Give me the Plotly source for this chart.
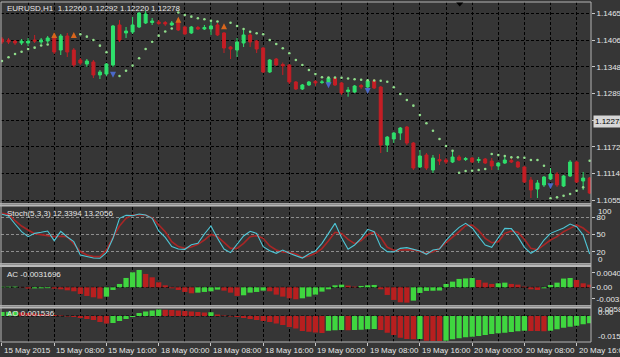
import plotly.graph_objects as go
from plotly.subplots import make_subplots

# ---------------- data ----------------
tick_idx = [0, 8, 16, 24, 32, 40, 48, 56, 64, 72, 80, 88]
tick_labels = ["15 May 2015", "15 May 08:00", "15 May 16:00", "18 May 00:00",
               "18 May 08:00", "18 May 16:00", "19 May 00:00", "19 May 08:00",
               "19 May 16:00", "20 May 00:00", "20 May 08:00", "20 May 16:00"]

opens = [
    1.14087, 1.14065, 1.14043, 1.13999, 1.13999, 1.14065, 1.14021, 1.14043, 1.14109, 1.13846,
    1.14153, 1.13846, 1.13627, 1.13539, 1.13583, 1.13299, 1.13320, 1.13518, 1.14394, 1.14219,
    1.14240, 1.14350, 1.14437, 1.14448, 1.14459, 1.14448, 1.14394, 1.14459, 1.14350, 1.14219,
    1.14339, 1.14306, 1.14306, 1.14394, 1.14219, 1.13912, 1.13846, 1.13999, 1.14175, 1.14043,
    1.13890, 1.13364, 1.13649, 1.13529, 1.13518, 1.13146, 1.12992, 1.13080, 1.13157, 1.13135,
    1.13124, 1.13233, 1.13124, 1.12937, 1.12926, 1.13069, 1.13036, 1.13168, 1.13036, 1.11765,
    1.11897, 1.12028, 1.12160, 1.11809, 1.11284, 1.11547, 1.11218, 1.11448, 1.11437, 1.11393,
    1.11503, 1.11448, 1.11481, 1.11426, 1.11459, 1.11415, 1.11306, 1.11371, 1.11426, 1.11393,
    1.11284, 1.10999, 1.10802, 1.10890, 1.11021, 1.11131, 1.10868, 1.11087, 1.11393, 1.10977,
    1.11043]
highs = [
    1.14131, 1.14109, 1.14065, 1.14087, 1.14109, 1.14175, 1.14109, 1.14153, 1.14175, 1.14197,
    1.14219, 1.13890, 1.13671, 1.13649, 1.13627, 1.13408, 1.13561, 1.14394, 1.14503, 1.14350,
    1.14569, 1.14678, 1.14700, 1.14547, 1.14503, 1.14481, 1.14481, 1.14547, 1.14372, 1.14372,
    1.14372, 1.14394, 1.14503, 1.14437, 1.14240, 1.13934, 1.14109, 1.14284, 1.14240, 1.14065,
    1.13912, 1.13649, 1.13671, 1.13572, 1.13539, 1.13168, 1.13102, 1.13168, 1.13189, 1.13189,
    1.13255, 1.13255, 1.13146, 1.13036, 1.13080, 1.13102, 1.13211, 1.13211, 1.13058, 1.11962,
    1.12050, 1.12160, 1.12182, 1.11831, 1.11656, 1.11590, 1.11547, 1.11568, 1.11481, 1.11656,
    1.11547, 1.11503, 1.11503, 1.11503, 1.11481, 1.11481, 1.11393, 1.11503, 1.11481, 1.11415,
    1.11306, 1.11065, 1.10999, 1.11087, 1.11262, 1.11174, 1.11109, 1.11437, 1.11415, 1.11174,
    1.11065]
lows = [
    1.13977, 1.13977, 1.13955, 1.13955, 1.13934, 1.13999, 1.13977, 1.13999, 1.13758, 1.13736,
    1.13693, 1.13474, 1.13518, 1.13474, 1.13233, 1.13211, 1.13277, 1.13474, 1.14021, 1.14109,
    1.14197, 1.14328, 1.14415, 1.14394, 1.14394, 1.14372, 1.14372, 1.14262, 1.14175, 1.14197,
    1.14284, 1.14284, 1.14175, 1.14153, 1.13780, 1.13649, 1.13693, 1.13912, 1.13912, 1.13780,
    1.13342, 1.13342, 1.13496, 1.13299, 1.13102, 1.12970, 1.12970, 1.13058, 1.13058, 1.13102,
    1.13080, 1.13058, 1.12861, 1.12823, 1.12905, 1.12992, 1.13014, 1.12992, 1.11590, 1.11612,
    1.11809, 1.11875, 1.11765, 1.11218, 1.11262, 1.11218, 1.11152, 1.11328, 1.11350, 1.11371,
    1.11415, 1.11415, 1.11371, 1.11371, 1.11350, 1.11218, 1.11218, 1.11350, 1.11371, 1.11262,
    1.10933, 1.10605, 1.10605, 1.10846, 1.10999, 1.10846, 1.10846, 1.11065, 1.10933, 1.10780,
    1.10692]
closes = [
    1.14021, 1.14021, 1.13999, 1.14043, 1.14043, 1.14043, 1.14065, 1.14109, 1.13802, 1.14153,
    1.13802, 1.13518, 1.13561, 1.13605, 1.13299, 1.13364, 1.13539, 1.14372, 1.14065, 1.14262,
    1.14394, 1.14656, 1.14634, 1.14481, 1.14426, 1.14415, 1.14437, 1.14284, 1.14197, 1.14350,
    1.14306, 1.14339, 1.14372, 1.14175, 1.13890, 1.13868, 1.14021, 1.14175, 1.14021, 1.13868,
    1.13364, 1.13627, 1.13518, 1.13496, 1.13146, 1.12992, 1.13080, 1.13146, 1.13124, 1.13146,
    1.13233, 1.13080, 1.12905, 1.12970, 1.13058, 1.13036, 1.13168, 1.13014, 1.11765, 1.11940,
    1.12028, 1.12138, 1.11809, 1.11262, 1.11525, 1.11262, 1.11481, 1.11415, 1.11393, 1.11503,
    1.11437, 1.11470, 1.11393, 1.11448, 1.11371, 1.11306, 1.11371, 1.11437, 1.11393, 1.11284,
    1.10955, 1.10780, 1.10933, 1.11065, 1.11131, 1.10890, 1.11087, 1.11393, 1.10955, 1.11043,
    1.10714]

sar = [
    1.13605, 1.13686, 1.13759, 1.13809, 1.13868, 1.13897, 1.13945, 1.13967, None, None,
    None, None, 1.14190, 1.14138, 1.14065, 1.13941, 1.13796, None, 1.13277, 1.13393,
    1.13503, 1.13665, 1.13868, 1.14028, 1.14160, 1.14251, 1.14317, 1.14668, 1.14613, 1.14576,
    1.14541, 1.14519, 1.14488, 1.14470, None, 1.14444, 1.14372, 1.14306, 1.14247, 1.14212,
    1.14190, 1.14065, 1.13978, 1.13884, 1.13774, 1.13627, 1.13518, 1.13408, 1.13321, 1.13248,
    1.13244, 1.13242, 1.13240, 1.13222, 1.13205, 1.13194, 1.13185, 1.13178, 1.13172, 1.13152,
    1.13029, 1.12883, 1.12751, 1.12627, 1.12423, 1.12241, 1.12079, 1.11897, 1.11744, 1.11641,
    1.11159, 1.11196, 1.11203, 1.11218, 1.11240, 1.11569, 1.11547, 1.11525, 1.11496, 1.11496,
    1.11488, 1.11437, 1.11437, 1.11313, 1.10599, 1.10620, 1.10656, 1.10693, 1.10765, 1.10839,
    1.11422]

frac_up_idx = [8, 11, 27, 34]
frac_up_price = [1.14240, 1.14240, 1.14575, 1.14431]
frac_dn_idx = [17, 50, 56, 84]
frac_dn_price = [1.13240, 1.13007, 1.12883, 1.10795]

price_levels = [1.10555, 1.11140, 1.11725, 1.12310, 1.12895, 1.13480, 1.14065, 1.14650]
price_labels = ["1.10555", "1.11140", "1.11725", "", "1.12895", "1.13480", "1.14065", "1.14650"]
current_price = 1.12278

stoch_k = [
    85.3, 82.4, 68.4, 55.0, 46.3, 52.1, 53.9, 56.2, 39.3, 55.6,
    45.7, 37.6, 14.3, 11.4, 9.1, 8.5, 18.4, 43.4, 78.3, 83.5,
    83.0, 85.9, 84.1, 78.3, 56.2, 45.1, 28.9, 24.8, 24.2, 32.3,
    34.7, 51.0, 64.9, 43.4, 24.8, 18.4, 33.5, 47.5, 55.6, 52.1,
    28.9, 21.9, 17.2, 23.0, 17.2, 13.1, 9.0, 16.0, 21.3, 34.7,
    52.7, 69.6, 44.5, 24.2, 31.8, 43.4, 59.1, 55.0, 28.9, 20.1,
    19.5, 25.9, 27.1, 24.2, 21.3, 15.5, 23.0, 24.8, 39.9, 52.1,
    62.6, 69.6, 61.4, 46.3, 31.8, 27.7, 45.1, 60.8, 60.3, 46.3,
    27.7, 17.2, 24.2, 40.5, 52.1, 56.8, 61.4, 68.4, 63.8, 49.2,
    16.0]
stoch_d = [
    87.0, 85.3, 74.2, 64.9, 57.9, 51.5, 49.8, 48.1, 46.3, 46.9,
    46.3, 34.0, 20.1, 14.3, 11.4, 11.4, 23.0, 45.1, 64.9, 78.3,
    84.1, 84.1, 84.1, 78.9, 66.7, 55.0, 37.6, 28.9, 25.9, 28.3,
    32.9, 40.5, 50.4, 46.3, 36.4, 25.9, 25.9, 34.7, 46.3, 48.1,
    43.4, 30.0, 23.0, 19.5, 18.4, 16.1, 10.0, 12.6, 17.2, 25.4,
    39.3, 53.9, 52.1, 41.7, 34.1, 39.3, 49.8, 54.5, 44.6, 27.7,
    22.5, 23.0, 24.2, 23.6, 20.1, 17.2, 20.1, 25.9, 35.8, 44.6,
    55.0, 65.5, 66.7, 56.8, 43.4, 35.8, 37.6, 52.1, 56.2, 53.9,
    41.7, 25.9, 23.6, 31.8, 40.5, 46.3, 55.0, 60.8, 66.7, 61.4,
    52.1]
stoch_levels = [20, 50, 80]

ac = [
    0.00015, 0.00017, 0.00019, -0.00005, -0.00035, -0.00030, -0.00027, -0.00023, -0.00037, -0.00055,
    -0.00083, -0.00110, -0.00183, -0.00238, -0.00275, -0.00312, -0.00257, -0.00073, 0.00092, 0.00257,
    0.00413, 0.00477, 0.00367, 0.00275, 0.00138, 0.00055, -0.00028, -0.00073, -0.00128, -0.00165,
    -0.00147, -0.00128, -0.00110, -0.00064, -0.00092, -0.00147, -0.00238, -0.00220, -0.00147, -0.00128,
    -0.00092, -0.00110, -0.00202, -0.00257, -0.00303, -0.00330, -0.00303, -0.00257, -0.00202, -0.00119,
    -0.00055, 0.00055, 0.00073, 0.00046, 0.00018, 0.00037, 0.00055, 0.00064, -0.00055, -0.00211,
    -0.00348, -0.00413, -0.00422, -0.00367, -0.00156, -0.00100, -0.00095, -0.00090, 0.00092, 0.00156,
    0.00230, 0.00245, 0.00255, 0.00202, 0.00128, 0.00092, 0.00110, 0.00128, 0.00092, 0.00073,
    0.00018, -0.00055, -0.00073, -0.00028, 0.00064, 0.00128, 0.00240, 0.00255, 0.00202, 0.00110,
    0.00073]
ac_ticks = [0.00401, 0.0, -0.0031696]
ac_tick_text = ["0.00401", "0.00", "-0.0031696"]

ao = [
    0.00297, 0.00319, 0.00334, 0.00260, 0.00223, 0.00186, 0.00148, 0.00111, 0.00074, 0.00037,
    -0.00037, -0.00074, -0.00148, -0.00223, -0.00297, -0.00445, -0.00557, -0.00519, -0.00371, -0.00223,
    -0.00074, 0.00223, 0.00334, 0.00408, 0.00482, 0.00467, 0.00445, 0.00408, 0.00371, 0.00334,
    0.00297, 0.00260, 0.00282, 0.00111, 0.00037, -0.00037, -0.00074, -0.00148, -0.00223, -0.00297,
    -0.00371, -0.00445, -0.00557, -0.00668, -0.00816, -0.00928, -0.01113, -0.01165, -0.01224, -0.01261,
    -0.01091, -0.01061, -0.01039, -0.01054, -0.01039, -0.01017, -0.00987, -0.00965, -0.01039, -0.01239,
    -0.01410, -0.01610, -0.01707, -0.01729, -0.01707, -0.01833, -0.01848, -0.01862, -0.01833, -0.01729,
    -0.01655, -0.01580, -0.01536, -0.01484, -0.01410, -0.01336, -0.01284, -0.01239, -0.01187, -0.01135,
    -0.01091, -0.01106, -0.01120, -0.01135, -0.01098, -0.00987, -0.00868, -0.00794, -0.00720, -0.00616,
    -0.00542]

title_text = "EURUSD,H1  1.12260 1.12292 1.12220 1.12278"
stoch_title = "Stoch(5,3,3) 12.3394 13.2056"
ac_title = "AC -0.0031696"
ao_title = "AO 0.001536"

# ---------------- styling ----------------
BG = "#363636"
GREEN = "#2fe06c"
RED = "#c41e25"
BAR_G = "#3fd63f"
BAR_R = "#b81f1f"
TXT = "#e6e6e6"
FONT = "Liberation Sans"
GRID = "#000000"
DASH = "3px,2px"

idx = list(range(len(opens)))


def updown_colors(vals):
    out = []
    for i, v in enumerate(vals):
        up = (i == 0) or (v > vals[i - 1])
        out.append(BAR_G if up else BAR_R)
    return out


fig = make_subplots(rows=4, cols=1, shared_xaxes=True, vertical_spacing=0)

fig.add_trace(go.Candlestick(
    x=idx, open=opens, high=highs, low=lows, close=closes,
    increasing=dict(line=dict(color=GREEN, width=1), fillcolor=GREEN),
    decreasing=dict(line=dict(color=RED, width=1), fillcolor=RED),
    whiskerwidth=0, showlegend=False, hoverinfo="skip"), row=1, col=1)

fig.add_trace(go.Scatter(
    x=idx, y=sar, mode="markers",
    marker=dict(size=2.6, color="#8fdc8a"), showlegend=False, hoverinfo="skip"),
    row=1, col=1)

fig.add_trace(go.Scatter(
    x=frac_up_idx, y=frac_up_price, mode="markers",
    marker=dict(symbol="arrow-up", size=6, color="#d9661c"),
    showlegend=False, hoverinfo="skip"), row=1, col=1)
fig.add_trace(go.Scatter(
    x=frac_dn_idx, y=frac_dn_price, mode="markers",
    marker=dict(symbol="arrow-down", size=6, color="#4a68c8"),
    showlegend=False, hoverinfo="skip"), row=1, col=1)

fig.add_trace(go.Scatter(
    x=idx, y=stoch_d, mode="lines", line=dict(color="#a82626", width=1.6),
    showlegend=False, hoverinfo="skip"), row=2, col=1)
fig.add_trace(go.Scatter(
    x=idx, y=stoch_k, mode="lines", line=dict(color="#4ec6d6", width=1.1),
    showlegend=False, hoverinfo="skip"), row=2, col=1)

fig.add_trace(go.Bar(
    x=idx, y=ac, marker=dict(color=updown_colors(ac), line=dict(width=0)),
    width=0.8, showlegend=False, hoverinfo="skip"), row=3, col=1)

fig.add_trace(go.Bar(
    x=idx, y=ao, marker=dict(color=updown_colors(ao), line=dict(width=0)),
    width=0.8, showlegend=False, hoverinfo="skip"), row=4, col=1)

# ---------------- layout ----------------
H_TOP, H_BOT = 2, 342          # plot area in pixels (top, bottom)
PH = H_BOT - H_TOP


def py(p):
    return (H_BOT - p) / PH


minor_vals = [t + 4 for t in tick_idx]
xcommon = dict(range=[-0.15, 90.2], tickmode="array", tickvals=tick_idx,
               showticklabels=False, showgrid=True, gridcolor=GRID, griddash=DASH,
               gridwidth=1, zeroline=False, showline=False, fixedrange=True,
               automargin=False,
               minor=dict(tickvals=minor_vals, showgrid=True, gridcolor=GRID,
                          griddash=DASH, gridwidth=1),
               rangeslider=dict(visible=False))
for r in range(1, 5):
    fig.update_xaxes(**xcommon, row=r, col=1)
fig.update_xaxes(ticks="outside", ticklen=3, tickcolor="#c8c8c8", row=4, col=1)

yfont = dict(family=FONT, size=8, color=TXT)
ycommon = dict(side="right", automargin=False, fixedrange=True, zeroline=False,
               ticks="outside", ticklen=3, tickcolor="#c8c8c8", tickfont=yfont)
fig.update_yaxes(domain=[py(203), py(2)], range=[1.10496, 1.14897],
                 tickmode="array", tickvals=price_levels, ticktext=price_labels,
                 showgrid=True, gridcolor=GRID, griddash=DASH, **ycommon, row=1, col=1)
fig.update_yaxes(domain=[py(263), py(206.5)], range=[0.3, 99],
                 tickmode="array", tickvals=stoch_levels,
                 ticktext=[str(v) for v in stoch_levels],
                 showgrid=True, gridcolor="#8e8e8e", griddash=DASH, **ycommon, row=2, col=1)
fig.update_yaxes(domain=[py(305), py(267)], range=[-0.00487, 0.00558],
                 tickmode="array", tickvals=ac_ticks, ticktext=ac_tick_text,
                 showgrid=False, **ycommon, row=3, col=1)
fig.update_yaxes(domain=[py(342), py(308.5)], range=[-0.01929, 0.00557], side="right",
                 showticklabels=False, showgrid=False, zeroline=False, automargin=False,
                 fixedrange=True, row=4, col=1)

shapes = []
# zero lines of the histograms
for yr in ("y3", "y4"):
    shapes.append(dict(type="line", xref="paper", yref=yr, x0=0, x1=1, y0=0, y1=0,
                       line=dict(color=GRID, width=1, dash=DASH), layer="below"))
# pane separators
for a, b in [(203, 206.5), (263, 267), (305, 308.5)]:
    shapes.append(dict(type="rect", xref="paper", yref="paper", x0=-0.01, x1=1.0,
                       y0=py(b), y1=py(a), fillcolor="#b9b9b9", line=dict(width=0)))
    shapes.append(dict(type="line", xref="paper", yref="paper", x0=-0.01, x1=1.0,
                       y0=py(a + 1.2), y1=py(a + 1.2), line=dict(color="#7a7a7a", width=1)))
# window border
shapes.append(dict(type="rect", xref="paper", yref="paper", x0=0, x1=1, y0=0, y1=1,
                   line=dict(color="#b4b4b4", width=1)))
# chart shift marker
shapes.append(dict(type="path", xref="x", yref="paper",
                   path=f"M 69.55,{py(2.5)} L 70.65,{py(2.5)} L 70.1,{py(6.5)} Z",
                   fillcolor="#000000", line=dict(width=0)))

ann = []
afont = dict(family=FONT, size=8, color=TXT)
ann.append(dict(text=title_text, xref="paper", yref="paper", x=0.0068, y=py(8.5),
                xanchor="left", yanchor="middle", showarrow=False, font=afont))
ann.append(dict(text=stoch_title, xref="paper", yref="paper", x=0.0068, y=py(213.5),
                xanchor="left", yanchor="middle", showarrow=False, font=afont))
ann.append(dict(text=ac_title, xref="paper", yref="paper", x=0.0068, y=py(274),
                xanchor="left", yanchor="middle", showarrow=False, font=afont))
ann.append(dict(text=ao_title, xref="paper", yref="paper", x=0.0068, y=py(313.5),
                xanchor="left", yanchor="middle", showarrow=False, font=afont))
# current price box
ann.append(dict(text=f"{current_price:.5f}", xref="paper", yref="y", x=1, y=current_price,
                xanchor="left", yanchor="middle", xshift=2, showarrow=False,
                bgcolor="#d6d6d6", borderpad=1,
                font=dict(family=FONT, size=8, color="#000000")))
# stoch 100 / 0 labels (placed inside the pane as the terminal does)
ann.append(dict(text="100", xref="paper", yref="paper", x=1, y=py(211), xanchor="left",
                yanchor="middle", xshift=5, showarrow=False, font=afont))
ann.append(dict(text="0", xref="paper", yref="paper", x=1, y=py(259), xanchor="left",
                yanchor="middle", xshift=5, showarrow=False, font=afont))
# AO scale labels
for txt, pix in [("0.00582", 309.5), ("0.00", 312.5), ("-0.01536", 336.7)]:
    ann.append(dict(text=txt, xref="paper", yref="paper", x=1, y=py(pix), xanchor="left",
                    yanchor="middle", xshift=5, showarrow=False, font=afont))
# time labels, left-aligned at their ticks
for t, lab in zip(tick_idx, tick_labels):
    ann.append(dict(text=lab, xref="x4", yref="paper", x=t, y=py(350.5), xanchor="left",
                    yanchor="middle", xshift=0, showarrow=False, font=afont))

fig.update_layout(
    width=620, height=357,
    margin=dict(l=1, r=29, t=H_TOP, b=357 - H_BOT, autoexpand=False),
    paper_bgcolor=BG, plot_bgcolor=BG,
    showlegend=False, hovermode=False, bargap=0.2, boxgap=0.35,
    shapes=shapes, annotations=ann,
    font=dict(family=FONT, size=8, color=TXT),
)

fig.write_html("out.html",
               config={"displayModeBar": False, "staticPlot": True},
               post_script="document.body.style.margin='0px';"
                           "document.body.style.background='#363636';")
